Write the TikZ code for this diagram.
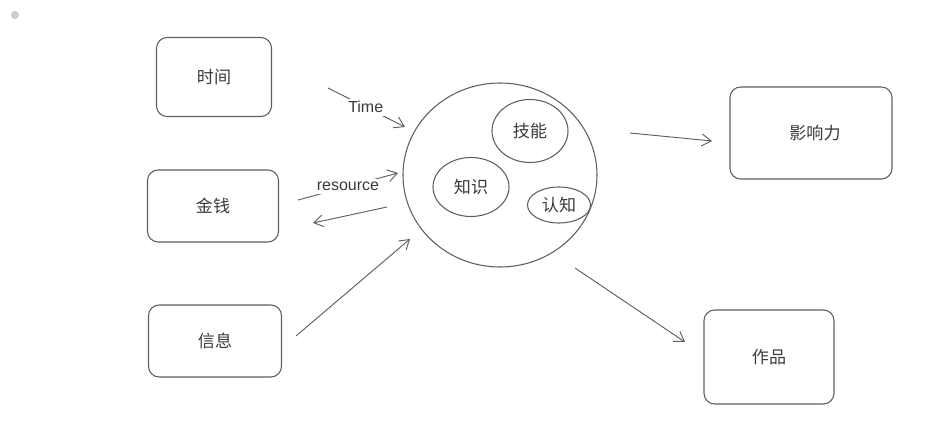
\documentclass[tikz,border=0pt]{standalone}
\usepackage{fontspec}
\setmainfont{Liberation Sans}
\newfontfamily\cjk{Noto Sans CJK SC}
\usetikzlibrary{arrows.meta,shapes.geometric}
\definecolor{ink}{HTML}{5E5E5E}
\definecolor{txt}{HTML}{3A3A3A}
\tikzset{
  box/.style={draw=ink, line width=0.8pt, rounded corners=8pt, text=txt, font=\cjk\fontsize{12.8}{14}\selectfont, inner sep=0pt},
  blob/.style={draw=ink, line width=0.8pt, ellipse, text=txt, font=\cjk\fontsize{12.8}{14}\selectfont, inner sep=0pt},
  conn/.style={draw=ink, line width=0.7pt, -{Straight Barb[length=7pt,width=9pt,line width=0.7pt]}},
  lbl/.style={fill=white, text=txt, font=\fontsize{12}{14}\selectfont, inner xsep=4.5pt, inner ysep=2pt}
}
\begin{document}
\begin{tikzpicture}[x=0.75pt,y=-0.75pt]
\useasboundingbox (0,0) rectangle (926,424);
\fill[black!20] (15,15) circle (4);
% boxes
\node[box, minimum width=115*0.75pt, minimum height=79*0.75pt] (time) at (214,77) {时间};
\node[box, minimum width=131*0.75pt, minimum height=72*0.75pt] (money) at (213,206) {金钱};
\node[box, minimum width=133*0.75pt, minimum height=72*0.75pt] (info) at (215,341) {信息};
\node[box, minimum width=162*0.75pt, minimum height=92*0.75pt] (influence) at (811,133) {\hspace*{6pt}影响力};
\node[box, minimum width=130*0.75pt, minimum height=94*0.75pt] (works) at (769,357) {作品};
% big circle and inner ellipses
\node[blob, minimum width=194*0.75pt, minimum height=184*0.75pt] (core) at (500,175) {};
\node[blob, minimum width=76*0.75pt, minimum height=63*0.75pt] (skill) at (530,131) {技能};
\node[blob, minimum width=76*0.75pt, minimum height=59*0.75pt] (know) at (471,187) {知识};
\node[blob, minimum width=63*0.75pt, minimum height=36*0.75pt] (cog) at (559,205) {认知};
% connector ends
\coordinate (t1) at (328,88);
\coordinate (t2) at (405,127);
\coordinate (r1) at (298,200);
\coordinate (r2) at (398,173);
\coordinate (b1) at (387,207);
\coordinate (b2) at (313,223);
\coordinate (i1) at (296,336);
\coordinate (i2) at (410,239);
\coordinate (o1) at (630,133);
\coordinate (o2) at (712,141);
\coordinate (w1) at (575,268);
\coordinate (w2) at (685,342);
% connectors
\draw[conn] (t1) -- node[lbl, pos=0.49] (tl) {Time} (t2);
\draw[conn] (r1) -- node[lbl, pos=0.5] (rl) {resource} (r2);
\draw[conn] (b1) -- (b2);
\draw[conn] (i1) -- (i2);
\draw[conn] (o1) -- (o2);
\draw[conn] (w1) -- (w2);
\end{tikzpicture}
\end{document}
